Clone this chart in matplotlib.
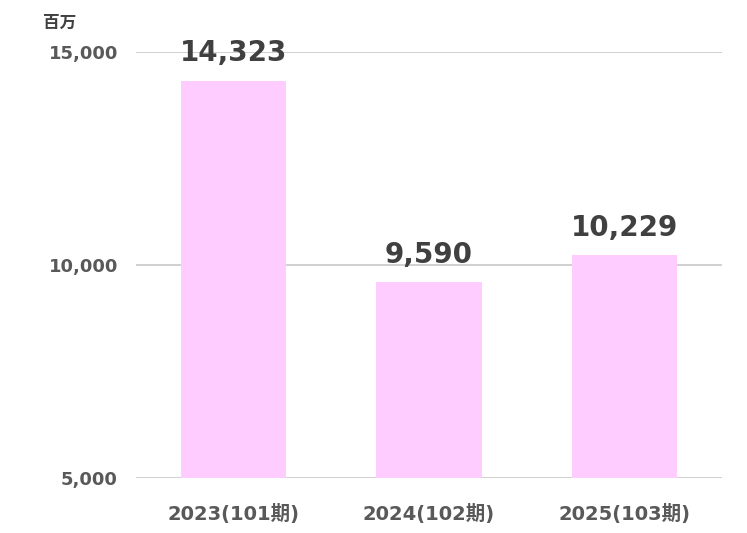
import matplotlib
matplotlib.use("Agg")
import matplotlib.pyplot as plt

categories = ["2023(101期)", "2024(102期)", "2025(103期)"]
values = [14323, 9590, 10229]
value_labels = ["14,323", "9,590", "10,229"]
yticks = [5000, 10000, 15000]
ytick_labels = ["5,000", "10,000", "15,000"]
unit_label = "百万"

plt.rcParams["font.family"] = ["DejaVu Sans", "Noto Sans CJK JP"]

fig = plt.figure(figsize=(7.47, 5.33), dpi=100)
ax = fig.add_axes([0.182, 0.1032, 0.7845, 0.7992])

x = range(len(categories))
ax.bar(x, values, width=0.54, color="#FFCCFF", zorder=2)
ax.set_xlim(-0.5, 2.5)
ax.set_ylim(5000, 15000)

ax.set_yticks(yticks)
ax.set_yticklabels(ytick_labels, fontsize=13, fontweight="bold", color="#595959")
ax.set_xticks(list(x))
ax.set_xticklabels(categories, fontsize=14, fontweight="bold", color="#595959")
ax.tick_params(axis="both", length=0)
ax.tick_params(axis="y", pad=13)
ax.tick_params(axis="x", pad=19)

ax.grid(axis="y", color="#D0D0D0", linewidth=1.4, zorder=0)
for side in ["top", "right", "left", "bottom"]:
    ax.spines[side].set_visible(False)

for xi, v, lab in zip(x, values, value_labels):
    ax.annotate(lab, (xi, v), xytext=(0, 14), textcoords="offset points",
                ha="center", va="baseline", fontsize=20, fontweight="bold",
                color="#404040", annotation_clip=False)

fig.text(0.058, 0.957, unit_label, fontsize=12, fontweight="bold", color="#404040",
         va="center", ha="left")

fig.savefig("out.png", dpi=100)
